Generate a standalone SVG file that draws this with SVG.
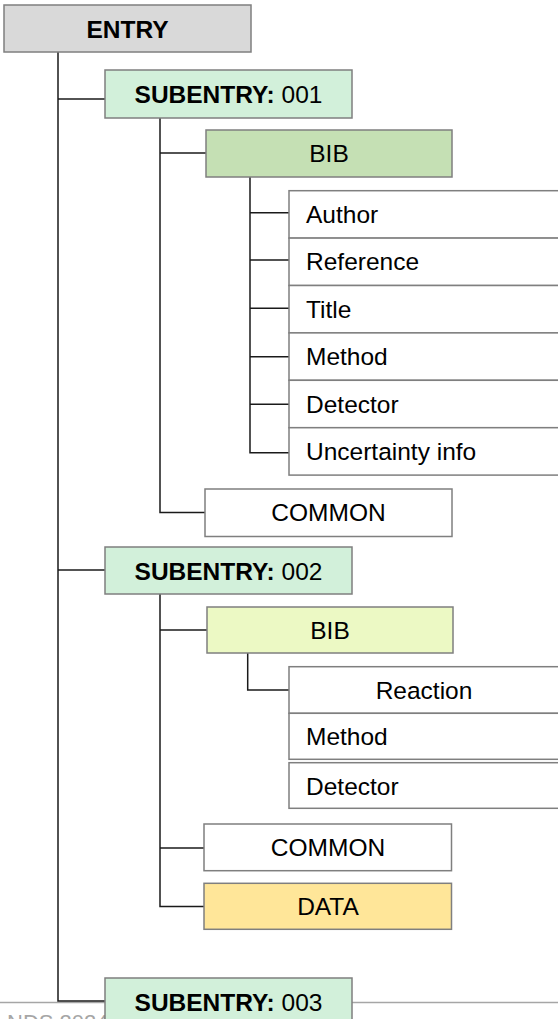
<svg xmlns="http://www.w3.org/2000/svg" width="558" height="1019" viewBox="0 0 558 1019">
<style>
.box{stroke:#7f7f7f;stroke-width:1.5}
.t{font-family:"Liberation Sans",Arial,Helvetica,sans-serif;font-size:24.5px;fill:#000}
.c{text-anchor:middle}
.b{font-weight:bold}
.ln{fill:none;stroke:#1a1a1a;stroke-width:1.5}
.entry{fill:#d9d9d9}
.sub{fill:#d2f0da}
.bib1{fill:#c5e0b4}
.bib2{fill:#ecf9c4}
.data{fill:#ffe699}
.w{fill:#ffffff}
</style>
<rect x="0" y="0" width="558" height="1019" fill="#ffffff"/>
<text x="7" y="1030" class="t" style="fill:#a6a6a6;font-size:22px">NDS 2024</text>
<line x1="0" y1="1002.5" x2="558" y2="1002.5" stroke="#a6a6a6" stroke-width="1.5"/>
<g id="connectors">
<path class="ln" d="M58,52 V1001 H105"/>
<path class="ln" d="M58,99 H105"/>
<path class="ln" d="M58,570 H105"/>
<path class="ln" d="M160,118 V512.5 H205"/>
<path class="ln" d="M160,153 H206"/>
<path class="ln" d="M250,177 V452.7 H289"/>
<path class="ln" d="M250,212.7 H289 M250,260 H289 M250,308.3 H289 M250,356.7 H289 M250,404.3 H289"/>
<path class="ln" d="M160,594 V906.5 H204"/>
<path class="ln" d="M160,630 H207"/>
<path class="ln" d="M160,848 H204"/>
<path class="ln" d="M247.7,653 V690 H289"/>
</g>
<g id="entry">
<rect class="box entry" x="4" y="5" width="247" height="47"/>
<text class="t c b" x="127.5" y="38">ENTRY</text>
</g>
<g id="subentry001">
<rect class="box sub" x="105" y="70" width="247" height="48"/>
<text class="t c" x="228.5" y="103"><tspan class="b">SUBENTRY:</tspan> 001</text>
</g>
<g id="bib1">
<rect class="box bib1" x="206" y="130" width="246" height="47"/>
<text class="t c" x="329" y="162">BIB</text>
</g>
<g id="author">
<rect class="box w" x="289" y="190.7" width="275" height="47.4"/>
<text class="t" x="306" y="223">Author</text>
</g>
<g id="reference">
<rect class="box w" x="289" y="238.1" width="275" height="47.4"/>
<text class="t" x="306" y="270.4">Reference</text>
</g>
<g id="title">
<rect class="box w" x="289" y="285.5" width="275" height="47.4"/>
<text class="t" x="306" y="317.8">Title</text>
</g>
<g id="method1">
<rect class="box w" x="289" y="332.9" width="275" height="47.4"/>
<text class="t" x="306" y="365.2">Method</text>
</g>
<g id="detector1">
<rect class="box w" x="289" y="380.3" width="275" height="47.4"/>
<text class="t" x="306" y="412.6">Detector</text>
</g>
<g id="uncertainty">
<rect class="box w" x="289" y="427.7" width="275" height="47.4"/>
<text class="t" x="306" y="460">Uncertainty info</text>
</g>
<g id="common1">
<rect class="box w" x="205" y="489" width="247" height="47.5"/>
<text class="t c" x="328.5" y="521">COMMON</text>
</g>
<g id="subentry002">
<rect class="box sub" x="105" y="547" width="247" height="47"/>
<text class="t c" x="228.5" y="579.5"><tspan class="b">SUBENTRY:</tspan> 002</text>
</g>
<g id="bib2">
<rect class="box bib2" x="207" y="607" width="246" height="46"/>
<text class="t c" x="330" y="638.5">BIB</text>
</g>
<g id="reaction">
<rect class="box w" x="289" y="666.7" width="270" height="46.6"/>
<text class="t c" x="424" y="699">Reaction</text>
</g>
<g id="method2">
<rect class="box w" x="289" y="713.3" width="275" height="46"/>
<text class="t" x="306" y="745.3">Method</text>
</g>
<g id="detector2">
<rect class="box w" x="289" y="762.7" width="275" height="45.6"/>
<text class="t" x="306" y="794.5">Detector</text>
</g>
<g id="common2">
<rect class="box w" x="204" y="824" width="247.5" height="46.7"/>
<text class="t c" x="328" y="856">COMMON</text>
</g>
<g id="data">
<rect class="box data" x="204" y="883.3" width="247.5" height="46"/>
<text class="t c" x="328" y="915">DATA</text>
</g>
<g id="subentry003">
<rect class="box sub" x="105" y="978" width="247" height="48"/>
<text class="t c" x="228.5" y="1010.5"><tspan class="b">SUBENTRY:</tspan> 003</text>
</g>
</svg>
